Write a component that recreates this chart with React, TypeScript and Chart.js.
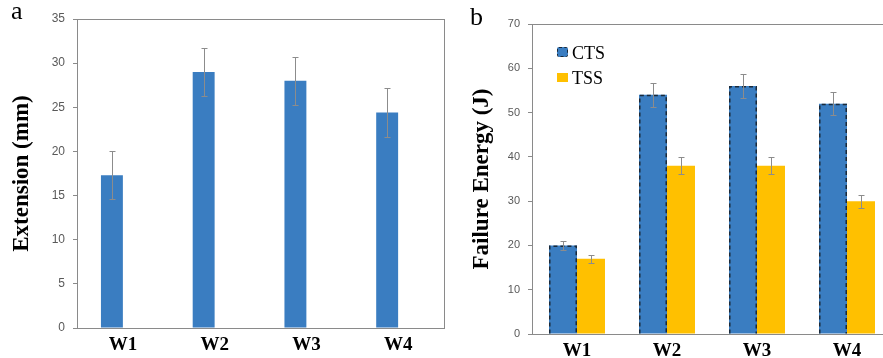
import React, { useEffect, useRef } from "react";
import { Chart, registerables } from "chart.js";

Chart.register(...registerables);

// ---- data ----
const categories = ["W1", "W2", "W3", "W4"];
const extensionValues = [17.3, 29.0, 28.0, 24.4];
const extensionErrors = [2.7, 2.7, 2.7, 2.75];
const ctsValues = [20, 54, 56, 52];
const ctsErrors = [1.0, 2.7, 2.8, 2.6];
const tssValues = [17, 38, 38, 30];
const tssErrors = [0.9, 1.9, 1.9, 1.5];
const extensionTicks = [0, 5, 10, 15, 20, 25, 30, 35];
const energyTicks = [0, 10, 20, 30, 40, 50, 60, 70];

const BLUE = "#3a7dc1";
const YELLOW = "#ffc000";
const SERIF = "'Liberation Serif', 'Times New Roman', serif";
const SANS = "'Liberation Sans', Arial, sans-serif";

const errorBarPlugin = {
  id: "errorBars",
  afterDatasetsDraw(chart: any, _args: any, opts: any) {
    const errs = opts.errors as (number[] | null)[];
    if (!errs) return;
    const ctx = chart.ctx;
    const y = chart.scales.y;
    chart.data.datasets.forEach((ds: any, di: number) => {
      const e = errs[di];
      if (!e) return;
      const meta = chart.getDatasetMeta(di);
      meta.data.forEach((bar: any, i: number) => {
        const v = ds.data[i];
        if (v == null) return;
        const x = Math.round(bar.x) + 0.5;
        const top = Math.round(y.getPixelForValue(v + e[i])) + 0.5;
        const bot = Math.round(y.getPixelForValue(v - e[i])) + 0.5;
        ctx.save();
        ctx.strokeStyle = "#8c8c8c";
        ctx.lineWidth = 1;
        ctx.beginPath();
        ctx.moveTo(x, top);
        ctx.lineTo(x, bot);
        ctx.moveTo(x - 3, top);
        ctx.lineTo(x + 3, top);
        ctx.moveTo(x - 3, bot);
        ctx.lineTo(x + 3, bot);
        ctx.stroke();
        ctx.restore();
      });
    });
  },
};

const dashedBorderPlugin = {
  id: "dashedBorder",
  afterDatasetsDraw(chart: any, _args: any, opts: any) {
    const idxs = (opts.datasets || []) as number[];
    const ctx = chart.ctx;
    idxs.forEach((di) => {
      const meta = chart.getDatasetMeta(di);
      meta.data.forEach((bar: any) => {
        const l = bar.x - bar.width / 2 + 0.75;
        const r = bar.x + bar.width / 2 - 0.75;
        const t = bar.y + 0.75;
        const b = bar.base;
        ctx.save();
        ctx.strokeStyle = "#1a2a3a";
        ctx.lineWidth = 1.5;
        ctx.setLineDash([4, 3]);
        ctx.beginPath();
        ctx.moveTo(l, b);
        ctx.lineTo(l, t);
        ctx.lineTo(r, t);
        ctx.lineTo(r, b);
        ctx.stroke();
        ctx.restore();
      });
    });
  },
};

const framePlugin = {
  id: "frame",
  beforeDatasetsDraw(chart: any) {
    const { left, right, top, bottom } = chart.chartArea;
    const ctx = chart.ctx;
    ctx.save();
    ctx.strokeStyle = "#8a8a8a";
    ctx.lineWidth = 1;
    ctx.strokeRect(Math.round(left) + 0.5, Math.round(top) + 0.5, Math.round(right - left), Math.round(bottom - top));
    ctx.restore();
  },
};

function yAxis(ticks: number[], title: string, width: number, titlePad: number, tickSize: number) {
  return {
    min: ticks[0],
    max: ticks[ticks.length - 1],
    afterFit: (s: any) => {
      s.width = width;
    },
    afterBuildTicks: (s: any) => {
      s.ticks = ticks.map((v) => ({ value: v }));
    },
    border: { display: false },
    grid: { drawOnChartArea: false, drawTicks: true, tickLength: 4, color: "#8a8a8a" },
    ticks: {
      color: "#595959",
      font: { family: SANS, size: tickSize },
      padding: 8,
    },
    title: {
      display: true,
      text: title,
      color: "#000",
      font: { family: SERIF, size: 23, weight: "bold" },
      padding: { top: titlePad, bottom: 0 },
    },
  };
}

function xAxis(height: number) {
  return {
    afterFit: (s: any) => {
      s.height = height;
    },
    border: { display: false },
    grid: { display: false, drawTicks: false },
    ticks: {
      color: "#000",
      font: { family: SERIF, size: 19, weight: "bold" },
      padding: 6,
    },
  };
}

function ChartA() {
  const ref = useRef<HTMLCanvasElement>(null);
  useEffect(() => {
    const chart = new Chart(ref.current!, {
      type: "bar",
      data: {
        labels: categories,
        datasets: [
          {
            label: "Extension",
            data: extensionValues,
            backgroundColor: BLUE,
            borderWidth: 0,
            categoryPercentage: 0.478,
            barPercentage: 1,
          },
          {
            label: "",
            data: categories.map(() => null),
            backgroundColor: "transparent",
            categoryPercentage: 0.478,
            barPercentage: 1,
          },
        ],
      },
      options: {
        responsive: false,
        animation: false,
        layout: { padding: { left: 0, right: 6, top: 19, bottom: 0 } },
        plugins: {
          legend: { display: false },
          tooltip: { enabled: false },
          errorBars: { errors: [extensionErrors, null] },
        } as any,
        scales: {
          x: xAxis(30) as any,
          y: yAxis(extensionTicks, "Extension (mm)", 77, 8, 12) as any,
        },
      },
      plugins: [framePlugin, errorBarPlugin],
    });
    return () => chart.destroy();
  }, []);
  return (
    <canvas
      ref={ref}
      width={450}
      height={358}
      style={{ position: "absolute", left: 0, top: 0, width: 450, height: 358 }}
    />
  );
}

function ChartB() {
  const ref = useRef<HTMLCanvasElement>(null);
  useEffect(() => {
    const chart = new Chart(ref.current!, {
      type: "bar",
      data: {
        labels: categories,
        datasets: [
          {
            label: "CTS",
            data: ctsValues,
            backgroundColor: BLUE,
            borderWidth: 0,
            categoryPercentage: 0.622,
            barPercentage: 1,
          },
          {
            label: "TSS",
            data: tssValues,
            backgroundColor: YELLOW,
            borderWidth: 0,
            categoryPercentage: 0.622,
            barPercentage: 1,
          },
        ],
      },
      options: {
        responsive: false,
        animation: false,
        layout: { padding: { left: 0, right: 8, top: 24, bottom: 0 } },
        plugins: {
          legend: { display: false },
          tooltip: { enabled: false },
          errorBars: { errors: [ctsErrors, tssErrors] },
          dashedBorder: { datasets: [0] },
        } as any,
        scales: {
          x: xAxis(24) as any,
          y: yAxis(energyTicks, "Failure Energy (J)", 82, 18, 11) as any,
        },
      },
      plugins: [framePlugin, dashedBorderPlugin, errorBarPlugin],
    });
    return () => chart.destroy();
  }, []);
  return (
    <canvas
      ref={ref}
      width={450}
      height={358}
      style={{ position: "absolute", left: 450, top: 0, width: 450, height: 358 }}
    />
  );
}

export default function App() {
  const label: React.CSSProperties = {
    position: "absolute",
    fontFamily: SERIF,
    color: "#000",
    whiteSpace: "nowrap",
  };
  return (
    <div
      style={{
        position: "absolute",
        left: 0,
        top: 0,
        width: 883,
        height: 358,
        overflow: "hidden",
        background: "#fff",
      }}
    >
      <ChartA />
      <ChartB />
      <div style={{ ...label, left: 11, top: -2, fontSize: 26, lineHeight: "26px" }}>a</div>
      <div style={{ ...label, left: 470, top: 4, fontSize: 26, lineHeight: "26px" }}>b</div>
      <div
        style={{
          position: "absolute",
          left: 557,
          top: 47,
          width: 11,
          height: 10,
          boxSizing: "border-box",
          background: BLUE,
          border: "1.5px dashed #1a2a3a",
          borderRadius: 2,
        }}
      />
      <div style={{ ...label, left: 572, top: 44, fontSize: 18, lineHeight: "18px" }}>CTS</div>
      <div
        style={{
          position: "absolute",
          left: 557,
          top: 73,
          width: 11,
          height: 9,
          background: YELLOW,
        }}
      />
      <div style={{ ...label, left: 572, top: 69, fontSize: 18, lineHeight: "18px" }}>TSS</div>
    </div>
  );
}
